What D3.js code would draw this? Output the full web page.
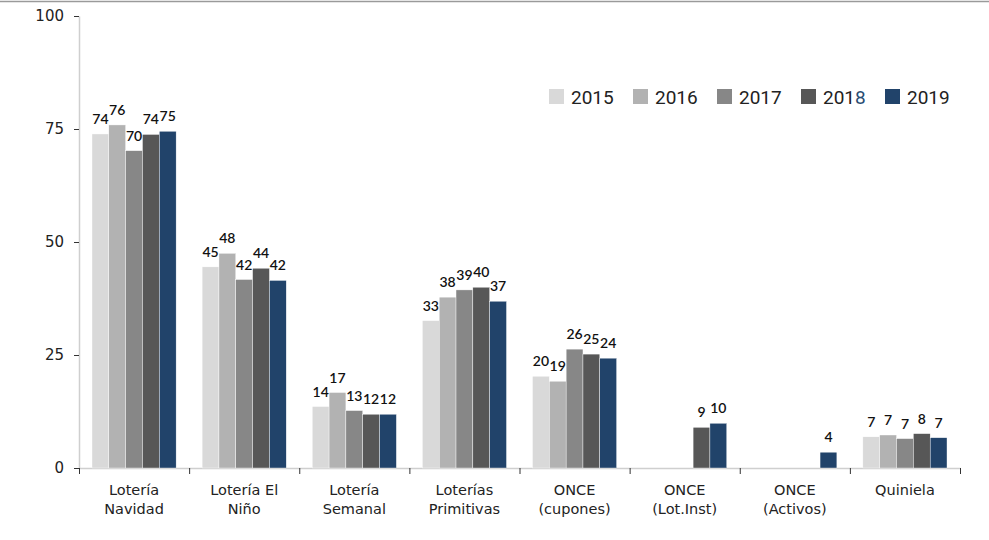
<!DOCTYPE html>
<meta charset="utf-8">
<style>
body { margin: 0; background: #fff; }
.tick text { font-family: "DejaVu Sans", Verdana, sans-serif; fill: #222; }
.val { font-family: Lato, sans-serif; font-size: 14px; font-weight: 600; fill: #111; }
.leg { font-family: Roboto, sans-serif; font-size: 19px; fill: #222; }
</style>
<body>
<script src="https://d3js.org/d3.v7.min.js"></script>
<script>

// categories (two lines each) and yearly series
var categories = ["Lotería|Navidad", "Lotería El|Niño", "Lotería|Semanal", "Loterías|Primitivas",
                  "ONCE|(cupones)", "ONCE|(Lot.Inst)", "ONCE|(Activos)", "Quiniela"];
var years = ["2015", "2016", "2017", "2018", "2019"];
var colors = ["#d9d9d9", "#b2b2b2", "#878787", "#575757", "#21436a"];

var v2015 = [73.9, 44.5, 13.6, 32.6, 20.3, null, null, 6.9];
var v2016 = [75.9, 47.5, 16.7, 37.8, 19.2, null, null, 7.3];
var v2017 = [70.2, 41.7, 12.7, 39.4, 26.3, null, null, 6.5];
var v2018 = [73.8, 44.2, 11.9, 40.0, 25.2, 9.0, null, 7.6];
var v2019 = [74.5, 41.5, 11.9, 36.9, 24.3, 9.9, 3.5, 6.7];
var series = [v2015, v2016, v2017, v2018, v2019];

var yTicks = [0, 25, 50, 75, 100];

// set the dimensions and margins of the graph
var margin = {top: 16, right: 29, bottom: 72, left: 79},
    width = 989 - margin.left - margin.right,
    height = 540 - margin.top - margin.bottom;

var root = d3.select("body").append("svg")
    .attr("width", 989)
    .attr("height", 540);

// top rule
root.append("line")
    .attr("x1", 0).attr("x2", 989)
    .attr("y1", 1.5).attr("y2", 1.5)
    .attr("stroke", "#9a9a9a").attr("stroke-width", 1.5);

var svg = root.append("g")
    .attr("transform", "translate(" + margin.left + "," + margin.top + ")");

var x0 = d3.scaleBand()
    .domain(categories)
    .range([0, width])
    .paddingInner(0.236)
    .paddingOuter(0.118);
var x1 = d3.scaleBand()
    .domain(years)
    .range([0, x0.bandwidth()]);
var y = d3.scaleLinear()
    .domain([0, 100])
    .range([height, 0]);

// y axis
var yAx = svg.append("g")
    .call(d3.axisLeft(y).tickValues(yTicks).tickSize(5).tickSizeOuter(0).tickPadding(10));
yAx.select(".domain").attr("stroke", "#cfcfcf").attr("stroke-width", 1.5);
yAx.selectAll(".tick line").attr("stroke", "#333");
yAx.selectAll(".tick text").style("font-size", "15px");

// x axis line + boundary ticks
var xb = d3.scaleLinear().domain([0, categories.length]).range([0, width]);
var xAx = svg.append("g")
    .attr("transform", "translate(0," + height + ")")
    .call(d3.axisBottom(xb).tickValues(d3.range(categories.length + 1)).tickFormat("").tickSize(6).tickSizeOuter(0));
xAx.select(".domain").attr("stroke", "#cfcfcf").attr("stroke-width", 1.5);
xAx.selectAll(".tick line").attr("stroke", "#333");

// category labels
var xl = svg.append("g")
    .attr("transform", "translate(0," + height + ")")
    .call(d3.axisBottom(x0).tickSize(0).tickPadding(0).tickFormat(""));
xl.select(".domain").remove();
xl.selectAll(".tick").each(function(d) {
  var t = d3.select(this).append("text")
      .attr("text-anchor", "middle")
      .style("font-size", "14.5px");
  d.split("|").forEach(function(s, i) {
    t.append("tspan").attr("x", 0).attr("y", 27 + i * 19).text(s);
  });
});

// bars
var rows = [];
categories.forEach(function(c, ci) {
  years.forEach(function(yr, si) {
    var v = series[si][ci];
    if (v != null) rows.push({cat: c, year: yr, value: v, color: colors[si]});
  });
});

svg.selectAll(".bar")
    .data(rows)
  .enter().append("rect")
    .attr("class", "bar")
    .attr("x", function(d) { return x0(d.cat) + x1(d.year); })
    .attr("width", x1.bandwidth())
    .attr("y", function(d) { return y(d.value); })
    .attr("height", function(d) { return height - y(d.value); })
    .attr("fill", function(d) { return d.color; })
    .attr("stroke", "#fff").attr("stroke-width", 0.4);

svg.selectAll(".val")
    .data(rows)
  .enter().append("text")
    .attr("class", "val")
    .attr("text-anchor", "middle")
    .attr("x", function(d) { return x0(d.cat) + x1(d.year) + x1.bandwidth() / 2; })
    .attr("y", function(d) { return y(d.value) - 10; })
    .text(function(d) { return Math.round(d.value); });

// legend
var leg = root.append("g").attr("transform", "translate(549,89)");
years.forEach(function(yr, i) {
  var g = leg.append("g").attr("transform", "translate(" + (i * 84) + ",0)");
  g.append("rect").attr("width", 15).attr("height", 15).attr("fill", colors[i]);
  var t = g.append("text").attr("class", "leg").attr("x", 22).attr("y", 15);
  if (yr == "2018") {
    t.append("tspan").text("201");
    t.append("tspan").attr("fill", "#2a4d73").text("8");
  } else {
    t.text(yr);
  }
});

</script>
</body>
